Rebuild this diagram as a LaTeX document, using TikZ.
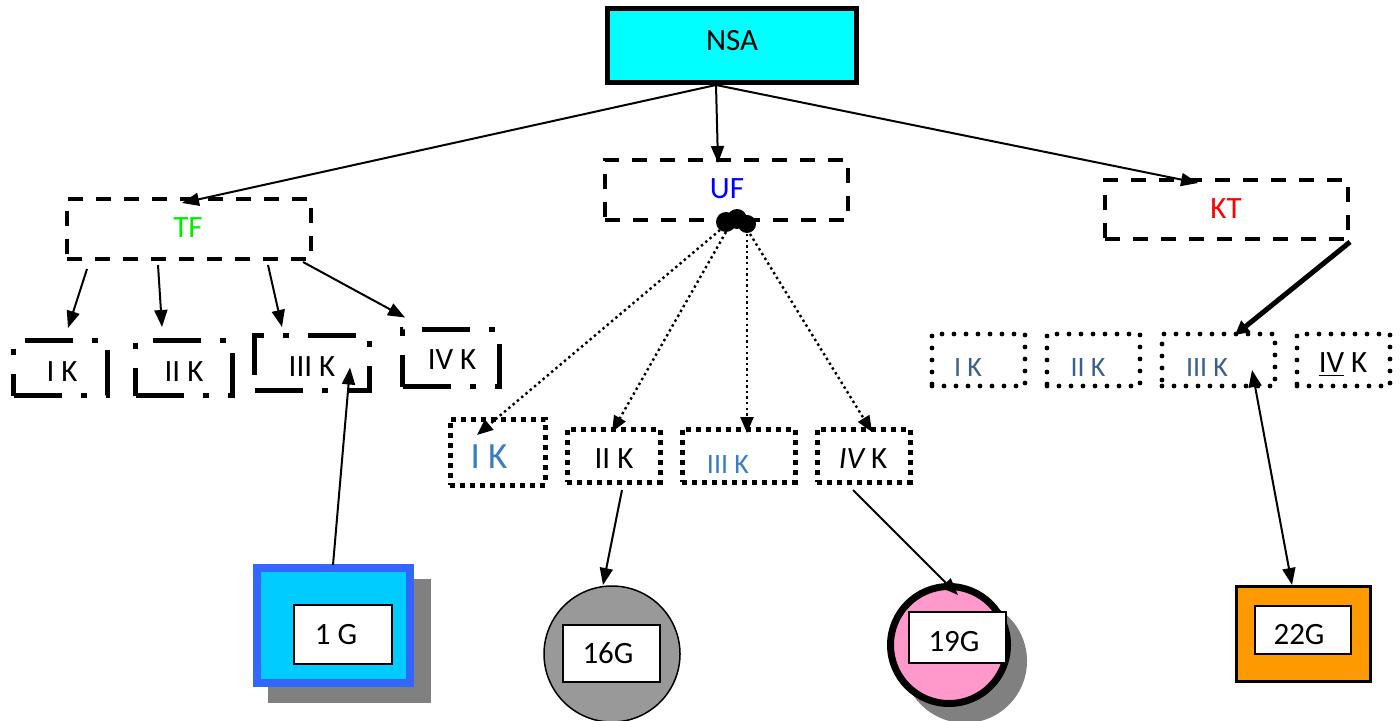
\documentclass[tikz,border=0pt]{standalone}
\usepackage{fontspec}
\setmainfont{Carlito}
\usetikzlibrary{arrows.meta,calc}
\definecolor{nsacyan}{HTML}{00FFFF}
\definecolor{tfgreen}{HTML}{00EE00}
\definecolor{ufblue}{HTML}{0000FF}
\definecolor{ktred}{HTML}{FF0000}
\definecolor{lightblue}{HTML}{3A7DC0}
\definecolor{ktblue}{HTML}{3A5F8F}
\definecolor{shadowgray}{HTML}{808080}
\definecolor{gcyan}{HTML}{00CCFF}
\definecolor{gblue}{HTML}{3366FF}
\definecolor{gray16}{HTML}{999999}
\definecolor{pink19}{HTML}{FF99CC}
\definecolor{orange22}{HTML}{FF9900}
\begin{document}
\begin{tikzpicture}[x=0.5pt,y=-0.5pt,
  box/.style={draw, rectangle, inner sep=0pt, outer sep=0pt},
  dashbox/.style={box, line width=2pt, dash pattern=on 7.5pt off 6.5pt},
  ddbox/.style={box, line width=2.5pt, dash pattern=on 24pt off 9.5pt on 3pt off 9.5pt},
  sqbox/.style={box, line width=2.5pt, dash pattern=on 2.5pt off 2.5pt},
  rdbox/.style={box, line width=2.4pt, line cap=round, dash pattern=on 0pt off 6pt},
  whitebox/.style={box, line width=1pt, fill=white},
  lbl/.style={inner sep=0pt, outer sep=0pt, font=\fontsize{15.5}{17}\selectfont},
  smalllbl/.style={inner sep=0pt, outer sep=0pt, font=\fontsize{14}{16}\selectfont},
  arr/.style={-{Triangle[length=8.5pt,width=6.5pt]}, line width=1pt},
  thickarr/.style={-{Triangle[length=7pt,width=7pt]}, line width=2.5pt},
  dblarr/.style={{Triangle[length=8.5pt,width=6.5pt]}-{Triangle[length=8.5pt,width=6.5pt]}, line width=1pt},
  dotarr/.style={-{Triangle[length=8pt,width=6.5pt]}, line width=1.2pt, dash pattern=on 1.2pt off 1.6pt},
  blobc/.style={circle, fill=black, inner sep=0pt, outer sep=0pt}
]
\useasboundingbox (0,0) rectangle (1400,721);

% top level
\node[box, line width=2.5pt, fill=nsacyan, minimum width=124.5pt, minimum height=37pt] (nsa) at (731.5,46) {};
\node[lbl] (nsat) at (732,41) {NSA};

\node[dashbox, minimum width=122pt, minimum height=30pt] (tf) at (189,229) {};
\node[lbl, text=tfgreen] (tft) at (188,228) {TF};
\node[dashbox, minimum width=121.5pt, minimum height=30pt] (uf) at (726.5,190) {};
\node[lbl, text=ufblue] (uft) at (727,189) {UF};
\node[dashbox, minimum width=121.5pt, minimum height=29.5pt] (kt) at (1226.5,209.5) {};
\node[lbl, text=ktred] (ktt) at (1226,209) {KT};

% TF children
\node[ddbox, minimum width=47pt, minimum height=27.5pt] (tfa) at (60.5,368) {};
\node[lbl] (tfat) at (62,372) {I K};
\node[ddbox, minimum width=48.5pt, minimum height=27.5pt] (tfb) at (184,368) {};
\node[lbl] (tfbt) at (184,372) {II K};
\node[ddbox, minimum width=57.5pt, minimum height=27.5pt] (tfc) at (312,363) {};
\node[lbl] (tfct) at (312,367) {III K};
\node[ddbox, minimum width=48.5pt, minimum height=28.5pt] (tfd) at (451,358) {};
\node[lbl] (tfdt) at (452,360) {IV K};

% UF children
\node[sqbox, minimum width=47.5pt, minimum height=33pt] (ufa) at (497.5,452) {};
\node[inner sep=0pt, text=lightblue, font=\fontsize{18.5}{20}\selectfont] (ufat) at (489,457) {I K};
\node[sqbox, minimum width=46.5pt, minimum height=26.5pt] (ufb) at (613.5,455.5) {};
\node[lbl] (ufbt) at (614,459) {II K};
\node[sqbox, minimum width=56.5pt, minimum height=26.5pt] (ufc) at (738.5,455.5) {};
\node[smalllbl, text=lightblue] (ufct) at (728,465) {III K};
\node[sqbox, minimum width=46.5pt, minimum height=26.5pt] (ufd) at (863.5,455.5) {};
\node[lbl] (ufdt) at (863,459) {\itshape IV\upshape\ K};

% KT children
\node[rdbox, minimum width=46.5pt, minimum height=26pt] (kta) at (978.5,360) {};
\node[smalllbl, text=ktblue] (ktat) at (968,368) {I K};
\node[rdbox, minimum width=46.5pt, minimum height=26pt] (ktb) at (1093.5,360) {};
\node[smalllbl, text=ktblue] (ktbt) at (1088,368) {II K};
\node[rdbox, minimum width=56.5pt, minimum height=26pt] (ktc) at (1218.5,360) {};
\node[smalllbl, text=ktblue] (ktct) at (1207,368) {III K};
\node[rdbox, minimum width=46.5pt, minimum height=26pt] (ktd) at (1343.5,360) {};
\node[lbl] (ktdt) at (1343,365) {\underline{IV} K};

% blob under UF
\node[blobc, minimum size=10pt] (blob1) at (726,222) {};
\node[blobc, minimum size=10pt] (blob2) at (737,219) {};
\node[blobc, minimum size=9pt] (blob3) at (747,224) {};

% bottom: 1 G
\node[box, draw=none, fill=shadowgray, minimum width=81.5pt, minimum height=62pt] (g1sh) at (349.5,641) {};
\node[box, line width=4pt, draw=gblue, fill=gcyan, minimum width=76.5pt, minimum height=57.5pt] (g1) at (333.5,625.5) {};
\node[whitebox, minimum width=49pt, minimum height=29.5pt] (g1in) at (343,634.5) {};
\node[lbl] (g1t) at (336,635) {1 G};

% 16G
\node[circle, draw, line width=0.75pt, fill=gray16, minimum size=68pt, inner sep=0pt, outer sep=0pt] (g16) at (612,654) {};
\node[whitebox, minimum width=48.5pt, minimum height=28.5pt] (g16in) at (611.5,653.5) {};
\node[lbl] (g16t) at (608,653) {16G};

% 19G
\node[circle, fill=shadowgray, minimum size=62pt, inner sep=0pt, outer sep=0pt] (g19sh) at (965,661) {};
\node[circle, draw, line width=3.5pt, fill=pink19, minimum size=58.5pt, inner sep=0pt, outer sep=0pt] (g19) at (949,645) {};
\node[whitebox, minimum width=48.5pt, minimum height=25.5pt] (g19in) at (957.5,637.5) {};
\node[lbl] (g19t) at (954,642) {19G};

% 22G
\node[box, line width=1.5pt, fill=orange22, minimum width=67pt, minimum height=47.5pt] (g22) at (1303.5,634) {};
\node[whitebox, minimum width=48pt, minimum height=24pt] (g22in) at (1303,630) {};
\node[lbl] (g22t) at (1299,635) {22G};

% connectors from NSA
\draw[arr] ($(nsa.south)+(-15.5,2)$) -- ($(tf.north)+(-7,4)$);
\draw[arr] ($(nsa.south)+(-15.5,2)$) -- ($(uf.north)+(-8.5,3)$);
\draw[arr] ($(nsa.south)+(-15.5,2)$) -- ($(kt.north)+(-28.5,3)$);

% TF to children
\draw[arr] ($(tf.south)+(-102,10)$) -- ($(tfa.north)+(7.5,-12.5)$);
\draw[arr] ($(tf.south)+(-31,6)$) -- ($(tfb.north)+(-22,-13.5)$);
\draw[arr] ($(tf.south)+(79,6)$) -- ($(tfc.north)+(-30,-8.5)$);
\draw[arr] ($(tf.south)+(114,3)$) -- ($(tfd.north)+(-46,-12)$);

% UF to children (dotted)
\draw[dotarr] ($(blob1)+(-6,8)$) -- ($(ufa.north)+(-20.5,16)$);
\draw[dotarr] ($(blob1)+(0,10)$) -- ($(ufb.north)+(-1.5,3)$);
\draw[dotarr] ($(blob3)+(0,10)$) -- ($(ufc.north)+(8.5,4)$);
\draw[dotarr] ($(blob3)+(3,10)$) -- ($(ufd.north)+(8.5,3)$);

% KT to III K
\draw[thickarr] ($(kt.south east)+(2,3)$) -- ($(ktc.north)+(16.5,1)$);

% bottom connectors
\draw[arr] ($(g1.north)+(-0.5,-3)$) -- ($(tfc.south)+(38,-23)$);
\draw[arr] ($(ufb.south)+(8.5,8)$) -- ($(g16.north)+(-9,-1)$);
\draw[arr] ($(ufd.south)+(-10.5,8)$) -- ($(g19.north)+(9,8.5)$);
\draw[dblarr] ($(ktc.south)+(33.5,-16)$) -- ($(g22.north)+(-11.5,-1.5)$);
\end{tikzpicture}
\end{document}
